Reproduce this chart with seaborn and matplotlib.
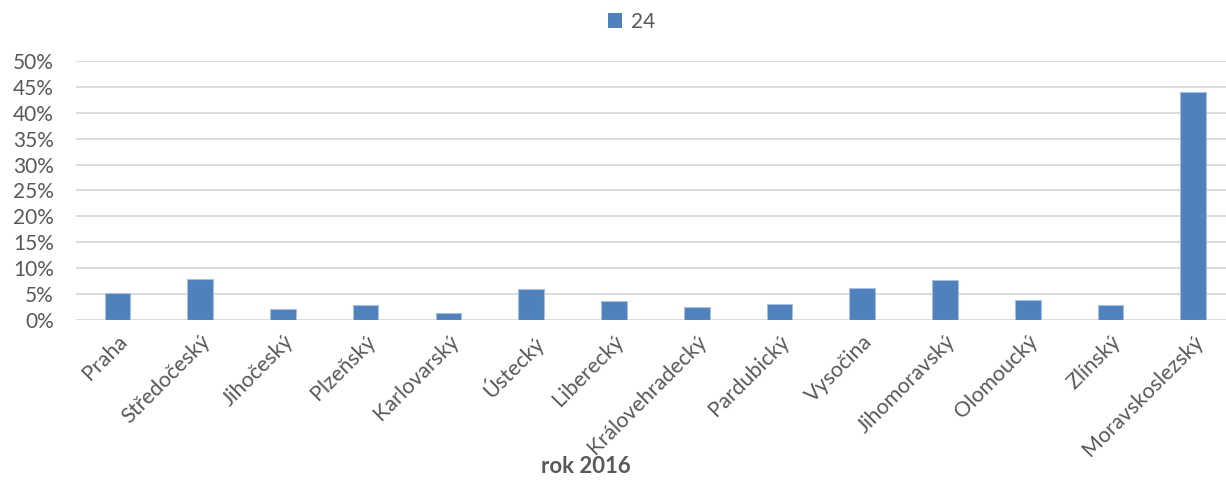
import matplotlib
matplotlib.use("Agg")
import matplotlib.pyplot as plt
from matplotlib.ticker import PercentFormatter, MultipleLocator
import seaborn as sns
import pandas as pd

regions = ["Praha", "Středočeský", "Jihočeský", "Plzeňský", "Karlovarský", "Ústecký",
           "Liberecký", "Královehradecký", "Pardubický", "Vysočina", "Jihomoravský",
           "Olomoucký", "Zlínský", "Moravskoslezský"]
shares = [5.3, 7.9, 2.2, 2.8, 1.35, 5.9, 3.7, 2.5, 3.15, 6.1, 7.7, 3.8, 2.9, 44.0]
series_name = "24"
axis_title = "rok 2016"

df = pd.DataFrame({"kraj": regions, "podil": shares, "serie": series_name})

sns.set_theme(style="white")
plt.rcParams["font.family"] = ["Lato", "DejaVu Sans"]

text_color = "#595959"
bar_color = "#4F81BD"

fig = plt.figure(figsize=(12.26, 4.83), dpi=100)
ax = fig.add_axes([0.062, 0.3375, 0.945, 0.5362])

sns.barplot(data=df, x="kraj", y="podil", hue="serie", palette=[bar_color],
            saturation=1, width=0.31, ax=ax, edgecolor="#A7C0DE", linewidth=0.8,
            legend=False)

ax.set_ylim(0, 50)
ax.set_xlim(-0.5, len(regions) - 0.5)
ax.yaxis.set_major_locator(MultipleLocator(5))
ax.yaxis.set_major_formatter(PercentFormatter(decimals=0))
ax.grid(axis="y", color="#D9D9D9", linewidth=1.3)
ax.set_axisbelow(True)
for s in ax.spines.values():
    s.set_visible(False)

ax.tick_params(axis="y", length=0, labelsize=15, labelcolor=text_color, pad=16)
ax.tick_params(axis="x", length=0, labelsize=15.5, labelcolor=text_color, pad=8)
plt.setp(ax.get_xticklabels(), rotation=45, ha="right", rotation_mode="anchor")
ax.set_ylabel("")
ax.set_xlabel(axis_title, fontsize=16, fontweight="bold", color=text_color)
ax.xaxis.set_label_coords(0.44, -0.525)

handle = plt.Rectangle((0, 0), 1, 1, facecolor=bar_color, edgecolor="none")
fig.legend([handle], [series_name], loc="center", bbox_to_anchor=(0.515, 0.955),
           frameon=False, fontsize=15, handlelength=0.7, handleheight=0.7,
           handletextpad=0.4, labelcolor=text_color)

fig.savefig("out.png", dpi=100)
